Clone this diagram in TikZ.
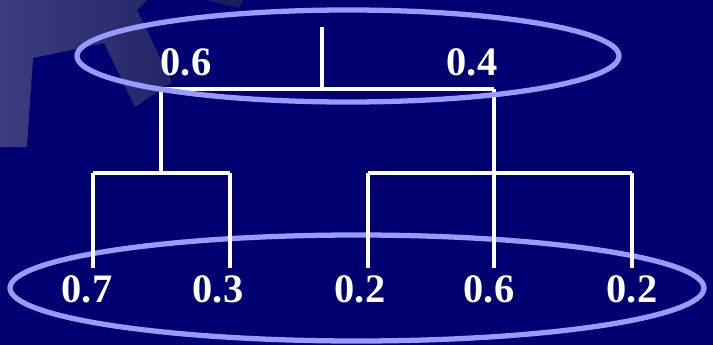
\documentclass[tikz,border=0pt]{standalone}
\usepackage{fontspec}
\setmainfont{Liberation Serif}
\definecolor{navy}{RGB}{0,0,112}
\definecolor{ringblue}{RGB}{153,153,255}
\definecolor{slateA}{RGB}{60,60,126}
\definecolor{slateB}{RGB}{36,36,104}
\definecolor{slateC}{RGB}{28,28,96}

\begin{document}
\begin{tikzpicture}[
    prob/.style={text=white, inner sep=0pt, font=\fontsize{23}{23}\selectfont\bfseries},
    branch/.style={white, line width=2.2pt},
    ring/.style={ringblue, line width=3pt}]
  % background and corner decoration
  \fill[navy] (0,0) rectangle (14.26,-6.9);
  \useasboundingbox (0,0) rectangle (14.26,-6.9);
  \shade[left color=slateA, right color=slateB] (0,0) -- (2.94,0) -- (2.74,-0.2) -- (3.44,-1.64) -- (2.70,-2.14)
    -- (2.08,-0.86) -- (0.66,-1.16) -- (0.54,-2.94) -- (0,-2.94) -- cycle;
  \fill[slateC] (4.10,0) -- (4.86,0) -- (4.78,-0.16) -- cycle;

  % tree junctions
  \coordinate (root) at (6.44,-0.54);
  \coordinate (rootbar) at (6.44,-1.78);
  \coordinate (left) at (3.22,-1.78);
  \coordinate (right) at (9.88,-1.78);
  \coordinate (leftbar) at (3.22,-3.46);
  \coordinate (rightbar) at (9.88,-3.46);
  \coordinate (l1) at (1.86,-5.36);
  \coordinate (l2) at (4.60,-5.36);
  \coordinate (l3) at (7.36,-5.36);
  \coordinate (l4) at (9.88,-5.36);
  \coordinate (l5) at (12.64,-5.36);

  % labels
  \node[prob] (pl) at (3.72,-1.25) {0.6};
  \node[prob] (pr) at (9.44,-1.25) {0.4};
  \node[prob] (q1) at (1.74,-5.78) {0.7};
  \node[prob] (q2) at (4.36,-5.78) {0.3};
  \node[prob] (q3) at (7.20,-5.78) {0.2};
  \node[prob] (q4) at (9.78,-5.78) {0.6};
  \node[prob] (q5) at (12.64,-5.78) {0.2};

  \draw[ring] (7.14,-5.76) ellipse [x radius=6.94cm, y radius=1.06cm];

  % branches
  \draw[branch] (root) -- (rootbar);
  \draw[branch] (left) -- (right);
  \draw[branch] (left) -- (leftbar);
  \draw[branch] (right) -- (rightbar);
  \draw[branch] (l1 |- leftbar) -- (l2 |- leftbar);
  \draw[branch] (l3 |- rightbar) -- (l5 |- rightbar);
  \draw[branch] (l1 |- leftbar) -- (l1);
  \draw[branch] (l2 |- leftbar) -- (l2);
  \draw[branch] (l3 |- rightbar) -- (l3);
  \draw[branch] (rightbar) -- (l4);
  \draw[branch] (l5 |- rightbar) -- (l5);

  \draw[ring] (6.96,-1.12) ellipse [x radius=5.42cm, y radius=0.92cm];
\end{tikzpicture}
\end{document}
